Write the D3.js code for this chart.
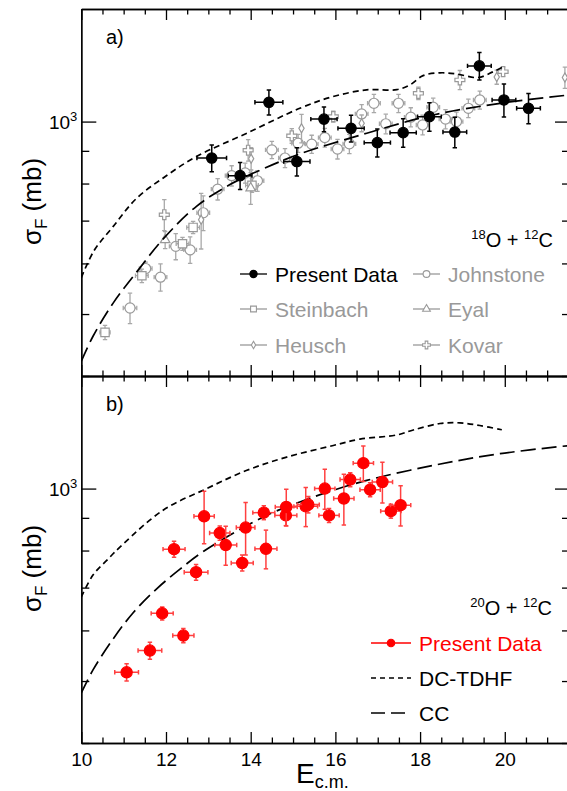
<!DOCTYPE html>
<html>
<head>
<meta charset="utf-8">
<script src="https://cdn.jsdelivr.net/npm/d3@7"></script>
<style>
body { margin: 0; background: #fff; }
svg { display: block; font-family: "Liberation Sans", Arial, Helvetica, sans-serif; }
</style>
</head>
<body>
<svg id="drawing_region"></svg>
<script>
// [E_cm, sigma, dE, dsigma]
const present18 = [
    [13.08, 877, 0.35, 42], [13.75, 823, 0.28, 40], [14.43, 1072, 0.33, 48],
    [15.09, 866, 0.31, 44], [15.73, 1009, 0.31, 45], [16.37, 976, 0.31, 47],
    [16.99, 927, 0.31, 47], [17.60, 961, 0.31, 49], [18.22, 1018, 0.28, 52],
    [18.82, 963, 0.28, 53], [19.40, 1222, 0.28, 60], [19.98, 1081, 0.28, 64],
    [20.56, 1049, 0.28, 57]
];
const johnstone = [
    [11.15, 511, 0.16, 28], [11.52, 589, 0.15, 14], [11.87, 571, 0.15, 28],
    [12.23, 638, 0.15, 30], [12.57, 630, 0.15, 30], [12.88, 720, 0.15, 45],
    [13.22, 784, 0.15, 30], [13.55, 823, 0.15, 30], [13.87, 831, 0.15, 30],
    [14.16, 808, 0.15, 30], [14.50, 903, 0.15, 28], [14.81, 877, 0.15, 30],
    [15.12, 925, 0.15, 30], [15.44, 922, 0.15, 30], [15.75, 944, 0.15, 32],
    [16.05, 906, 0.15, 32], [16.33, 923, 0.15, 32], [16.62, 1028, 0.15, 35],
    [16.91, 1068, 0.15, 35], [17.19, 992, 0.15, 35], [17.49, 1068, 0.15, 35],
    [17.78, 1016, 0.15, 35], [18.06, 988, 0.15, 35], [18.31, 1053, 0.15, 35],
    [18.60, 1009, 0.15, 35], [18.86, 1000, 0.15, 35], [19.14, 1049, 0.15, 35],
    [19.41, 1081, 0.15, 35]
];
const steinbach = [
    [10.56, 468, 0.12, 12], [11.43, 574, 0.15, 14], [12.39, 644, 0.15, 15],
    [12.64, 683, 0.15, 15], [14.03, 795, 0.15, 20]
];
const eyal = [
    [11.98, 653, 0, 20], [14.00, 787, 0, 45]
];
const heusch = [
    [12.83, 702, 0, 70], [14.01, 875, 0, 35], [15.20, 976, 0, 50],
    [16.62, 994, 0, 30], [19.81, 1174, 0, 30], [21.42, 1172, 0, 45]
];
const kovar = [
    [11.96, 715, 0, 40], [13.94, 902, 0, 35], [14.97, 950, 0, 25],
    [15.95, 1018, 0, 20], [17.96, 1107, 0, 25], [18.94, 1162, 0, 40],
    [19.96, 1197, 0, 20]
];
const present20 = [
    [11.07, 516, 0.28, 16], [11.62, 558, 0.28, 17], [11.91, 638, 0.26, 15],
    [12.19, 804, 0.26, 23], [12.41, 589, 0.25, 15], [12.71, 740, 0.28, 21],
    [12.90, 905, 0.24, 85], [13.27, 852, 0.24, 22], [13.41, 816, 0.26, 57],
    [13.80, 765, 0.26, 22], [13.88, 869, 0.22, 82], [14.31, 917, 0.26, 23],
    [14.36, 805, 0.26, 56], [14.83, 908, 0.26, 33], [14.84, 936, 0.26, 62],
    [15.30, 938, 0.28, 66], [15.36, 944, 0.26, 28], [15.75, 1000, 0.24, 72],
    [15.85, 908, 0.24, 23], [16.20, 965, 0.24, 88], [16.35, 1033, 0.24, 26],
    [16.66, 1096, 0.24, 70], [16.82, 996, 0.24, 25], [17.11, 1024, 0.24, 75],
    [17.31, 922, 0.24, 23], [17.54, 942, 0.24, 68]
];
// theory curves [E_cm, sigma]
const tdhf18 = [
    [10, 570], [10.3, 628], [10.75, 685], [11.3, 758], [12.0, 822], [12.72, 882],
    [13.91, 959], [15.16, 1049], [15.94, 1094], [16.74, 1121], [17.45, 1122],
    [17.76, 1141], [18.07, 1180], [18.47, 1192], [18.86, 1187], [19.37, 1172],
    [19.73, 1197], [19.96, 1218]
];
const cc18 = [
    [10, 422], [10.28, 462], [10.76, 521], [11.31, 582], [11.94, 656], [12.72, 737],
    [13.51, 797], [14.30, 844], [15.16, 890], [16.74, 959], [18.31, 1024],
    [19.89, 1068], [21.6, 1102]
];
const tdhf20 = [
    [10, 677], [10.28, 733], [10.6, 772], [10.98, 818], [11.94, 926], [12.96, 1000],
    [13.91, 1068], [14.85, 1120], [15.95, 1168], [16.58, 1195], [17.45, 1213],
    [17.84, 1235], [18.47, 1264], [18.94, 1267], [19.41, 1255], [19.93, 1236]
];
const cc20 = [
    [10, 479], [10.28, 521], [10.76, 583], [11.23, 640], [11.78, 697], [12.33, 748],
    [12.88, 797], [14.30, 903], [15.16, 953], [15.87, 990], [16.74, 1030],
    [18.31, 1087], [19.89, 1134], [21.6, 1169]
];
const xMajor = [10, 12, 14, 16, 18, 20];
const xMinor = [10.5, 11, 11.5, 12.5, 13, 13.5, 14.5, 15, 15.5, 16.5, 17, 17.5, 18.5, 19, 19.5, 20.5, 21, 21.5];
const yMajor = [1000];
const yMinor = [400, 500, 600, 700, 800, 900];

const config = {
    width: 567,
    height: 791,
    left: 81.3,
    right: 570,
    panels: [ {top: 9, bottom: 376}, {top: 376, bottom: 743} ]
};

const GRAY = '#999999';
const RED = '#ff0000';

const svg = d3.select('#drawing_region')
    .attr('width', config.width)
    .attr('height', config.height);

const xscale = d3.scaleLinear()
    .domain([10, 21.54])
    .range([config.left, config.right]);

const symbols = {
    circle: d3.symbolCircle,
    square: d3.symbolSquare,
    triangle: d3.symbolTriangle,
    diamond: d3.symbolDiamond,
    cross: d3.symbolCross
};

function makePanel( idx ) {
    const p = config.panels[idx];
    const y = d3.scaleLog().domain([400, 1500]).range([p.bottom, p.top]);
    const g = svg.append('g');

    g.append('clipPath').attr('id', 'clip' + idx)
        .append('rect')
        .attr('x', config.left).attr('y', p.top)
        .attr('width', config.right - config.left)
        .attr('height', p.bottom - p.top);

    const plot = g.append('g').attr('clip-path', `url(#clip${idx})`);
    return {g, plot, y, top: p.top, bottom: p.bottom};
}

function drawAxes( panel, showLabels ) {
    const g = panel.g.append('g');
    const styleAxis = sel => {
        sel.selectAll('path, line').attr('stroke', '#000').attr('stroke-width', 1.3);
        sel.selectAll('text').attr('font-size', 19).attr('fill', '#000')
            .attr('font-family', '"Liberation Sans", Arial, sans-serif');
    };

    g.append('g').attr('transform', `translate(0, ${panel.bottom})`)
        .call(d3.axisBottom(xscale).tickValues(xMajor).tickSize(-11).tickSizeOuter(0)
            .tickPadding(10).tickFormat(showLabels ? d3.format('d') : ''))
        .call(styleAxis);
    g.append('g').attr('transform', `translate(0, ${panel.bottom})`)
        .call(d3.axisBottom(xscale).tickValues(xMinor).tickSize(-5.5).tickSizeOuter(0).tickFormat(''))
        .call(styleAxis);
    g.append('g').attr('transform', `translate(0, ${panel.top})`)
        .call(d3.axisTop(xscale).tickValues(xMajor).tickSize(-11).tickSizeOuter(0).tickFormat(''))
        .call(styleAxis);
    g.append('g').attr('transform', `translate(0, ${panel.top})`)
        .call(d3.axisTop(xscale).tickValues(xMinor).tickSize(-5.5).tickSizeOuter(0).tickFormat(''))
        .call(styleAxis);

    g.append('g').attr('transform', `translate(${config.left}, 0)`)
        .call(d3.axisLeft(panel.y).tickValues(yMajor).tickSize(-15).tickSizeOuter(0).tickFormat(''))
        .call(styleAxis);
    g.append('g').attr('transform', `translate(${config.left}, 0)`)
        .call(d3.axisLeft(panel.y).tickValues(yMinor).tickSize(-8).tickSizeOuter(0).tickFormat(''))
        .call(styleAxis);
    g.append('g').attr('transform', `translate(${config.right}, 0)`)
        .call(d3.axisRight(panel.y).tickValues(yMajor).tickSize(-15).tickSizeOuter(0).tickFormat(''))
        .call(styleAxis);
    g.append('g').attr('transform', `translate(${config.right}, 0)`)
        .call(d3.axisRight(panel.y).tickValues(yMinor).tickSize(-8).tickSizeOuter(0).tickFormat(''))
        .call(styleAxis);

    // 10^3 label
    const t = g.append('text')
        .attr('x', config.left - 4)
        .attr('y', panel.y(1000) + 7)
        .attr('text-anchor', 'end')
        .attr('font-size', 19)
        .text('10');
    t.append('tspan').attr('font-size', 13).attr('dy', -8).text('3');

    // y title
    const cy = (panel.top + panel.bottom) / 2 + 9;
    const yl = g.append('text')
        .attr('transform', `translate(41, ${cy}) rotate(-90)`)
        .attr('text-anchor', 'middle')
        .attr('font-size', 26)
        .text('σ');
    yl.append('tspan').attr('font-size', 17).attr('dy', 6).text('F');
    yl.append('tspan').attr('dy', -6).text(' (mb)');
}

function drawCurve( panel, data, dash ) {
    const line = d3.line()
        .x(d => xscale(d[0]))
        .y(d => panel.y(d[1]))
        .curve(d3.curveCatmullRom.alpha(0.5));
    panel.plot.append('path')
        .datum(data)
        .attr('d', line)
        .attr('fill', 'none')
        .attr('stroke', '#000')
        .attr('stroke-width', 1.7)
        .attr('stroke-dasharray', dash);
}

function drawPoints( panel, data, opt ) {
    const cap = opt.cap || 2.2;
    const y = panel.y;
    const pts = panel.plot.append('g').selectAll('g').data(data).join('g');

    const bars = pts.append('g')
        .attr('stroke', opt.barColor)
        .attr('stroke-width', opt.barWidth || 1.3);
    bars.append('line')
        .attr('x1', d => xscale(d[0])).attr('x2', d => xscale(d[0]))
        .attr('y1', d => y(d[1] - d[3])).attr('y2', d => y(d[1] + d[3]));
    bars.append('line')
        .attr('x1', d => xscale(d[0]) - cap).attr('x2', d => xscale(d[0]) + cap)
        .attr('y1', d => y(d[1] - d[3])).attr('y2', d => y(d[1] - d[3]));
    bars.append('line')
        .attr('x1', d => xscale(d[0]) - cap).attr('x2', d => xscale(d[0]) + cap)
        .attr('y1', d => y(d[1] + d[3])).attr('y2', d => y(d[1] + d[3]));

    const hb = bars.filter(d => d[2] > 0);
    hb.append('line')
        .attr('x1', d => xscale(d[0] - d[2])).attr('x2', d => xscale(d[0] + d[2]))
        .attr('y1', d => y(d[1])).attr('y2', d => y(d[1]));
    hb.append('line')
        .attr('x1', d => xscale(d[0] - d[2])).attr('x2', d => xscale(d[0] - d[2]))
        .attr('y1', d => y(d[1]) - cap).attr('y2', d => y(d[1]) + cap);
    hb.append('line')
        .attr('x1', d => xscale(d[0] + d[2])).attr('x2', d => xscale(d[0] + d[2]))
        .attr('y1', d => y(d[1]) - cap).attr('y2', d => y(d[1]) + cap);

    pts.append('path')
        .attr('transform', d => `translate(${xscale(d[0])}, ${y(d[1])})`)
        .attr('d', d3.symbol().type(symbols[opt.shape]).size(opt.size))
        .attr('fill', opt.fill)
        .attr('stroke', opt.stroke)
        .attr('stroke-width', 1.2);
}

function legendEntry( g, x0, x1, cy, label, color, opt ) {
    g.append('line')
        .attr('x1', x0).attr('x2', x1).attr('y1', cy).attr('y2', cy)
        .attr('stroke', opt.lineColor || color)
        .attr('stroke-width', opt.lineWidth || 1.3)
        .attr('stroke-dasharray', opt.dash || null);
    if (opt.shape) {
        g.append('path')
            .attr('transform', `translate(${(x0 + x1) / 2}, ${cy})`)
            .attr('d', d3.symbol().type(symbols[opt.shape]).size(opt.size))
            .attr('fill', opt.fill)
            .attr('stroke', opt.stroke)
            .attr('stroke-width', 1.1);
    }
    g.append('text')
        .attr('x', x1 + 8)
        .attr('y', cy + 7.5)
        .attr('font-size', 21)
        .attr('fill', color)
        .text(label);
}

const grayOpen = {barColor: '#a8a8a8', fill: '#fff', stroke: GRAY};

// ---- panel a) 18O + 12C
const pa = makePanel(0);
drawPoints(pa, johnstone, {...grayOpen, shape: 'circle', size: 80});
drawPoints(pa, steinbach, {...grayOpen, shape: 'square', size: 70});
drawPoints(pa, eyal, {...grayOpen, shape: 'triangle', size: 40});
drawPoints(pa, heusch, {...grayOpen, shape: 'diamond', size: 24});
drawPoints(pa, kovar, {...grayOpen, shape: 'cross', size: 55});
drawCurve(pa, tdhf18, '6,4');
drawCurve(pa, cc18, '15,6');
drawPoints(pa, present18, {barColor: '#000', barWidth: 1.5, fill: '#000', stroke: '#000', shape: 'circle', size: 85});
drawAxes(pa, false);

pa.g.append('text').attr('x', 106).attr('y', 44).attr('font-size', 20).text('a)');
const ra = pa.g.append('text').attr('x', 553).attr('y', 247).attr('text-anchor', 'end').attr('font-size', 20);
ra.append('tspan').attr('font-size', 13).attr('dy', -8).text('18');
ra.append('tspan').attr('dy', 8).text('O + ');
ra.append('tspan').attr('font-size', 13).attr('dy', -8).text('12');
ra.append('tspan').attr('dy', 8).text('C');

const la = pa.g.append('g');
legendEntry(la, 240, 267, 274, 'Present Data', '#000', {shape: 'circle', size: 42, fill: '#000', stroke: '#000'});
legendEntry(la, 413, 440, 274, 'Johnstone', GRAY, {shape: 'circle', size: 36, fill: '#fff', stroke: GRAY});
legendEntry(la, 240, 267, 309, 'Steinbach', GRAY, {shape: 'square', size: 34, fill: '#fff', stroke: GRAY});
legendEntry(la, 413, 440, 309, 'Eyal', GRAY, {shape: 'triangle', size: 26, fill: '#fff', stroke: GRAY});
legendEntry(la, 240, 267, 345, 'Heusch', GRAY, {shape: 'diamond', size: 16, fill: '#fff', stroke: GRAY});
legendEntry(la, 413, 440, 345, 'Kovar', GRAY, {shape: 'cross', size: 34, fill: '#fff', stroke: GRAY});

// ---- panel b) 20O + 12C
const pb = makePanel(1);
drawCurve(pb, tdhf20, '6,4');
drawCurve(pb, cc20, '15,6');
drawPoints(pb, present20, {barColor: '#ff4040', barWidth: 1.5, fill: RED, stroke: RED, shape: 'circle', size: 100});
drawAxes(pb, true);

pb.g.append('text').attr('x', 106).attr('y', 411).attr('font-size', 20).text('b)');
const rb = pb.g.append('text').attr('x', 552).attr('y', 615).attr('text-anchor', 'end').attr('font-size', 20);
rb.append('tspan').attr('font-size', 13).attr('dy', -8).text('20');
rb.append('tspan').attr('dy', 8).text('O + ');
rb.append('tspan').attr('font-size', 13).attr('dy', -8).text('12');
rb.append('tspan').attr('dy', 8).text('C');

const lb = pb.g.append('g');
legendEntry(lb, 371, 411, 643, 'Present Data', RED, {shape: 'circle', size: 44, fill: RED, stroke: RED});
legendEntry(lb, 371, 411, 678, 'DC-TDHF', '#000', {dash: '5,4', lineWidth: 1.6});
legendEntry(lb, 371, 411, 713, 'CC', '#000', {dash: '14,6', lineWidth: 1.7});

// x title
const xt = svg.append('text').attr('x', 296).attr('y', 783).attr('font-size', 28).text('E');
xt.append('tspan').attr('font-size', 18).attr('dy', 5).text('c.m.');
</script>
</body>
</html>
